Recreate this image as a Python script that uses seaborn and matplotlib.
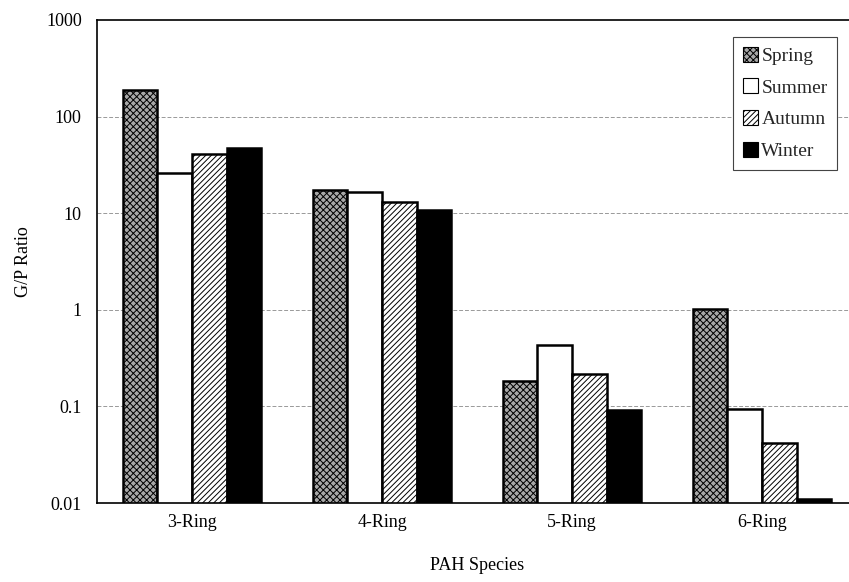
import numpy as np
import pandas as pd
import matplotlib
matplotlib.use("Agg")
import matplotlib.pyplot as plt
import seaborn as sns
from matplotlib.patches import Patch

categories = ["3-Ring", "4-Ring", "5-Ring", "6-Ring"]
seasons = ["Spring", "Summer", "Autumn", "Winter"]
spring = [187, 17.5, 0.183, 1.02]
summer = [26, 16.7, 0.43, 0.093]
autumn = [40.7, 13.0, 0.215, 0.0415]
winter = [47.7, 10.7, 0.091, 0.0111]

df = pd.DataFrame({
    "PAH": categories * 4,
    "Season": [s for s in seasons for _ in categories],
    "Ratio": spring + summer + autumn + winter,
})

sns.set_theme(style="white")
plt.rcParams["font.family"] = ["Liberation Serif", "DejaVu Serif"]
plt.rcParams["hatch.linewidth"] = 0.7

fig = plt.figure(figsize=(8.49, 5.82), dpi=100)
W, H = 849, 582
ax = fig.add_axes([97 / W, (H - 503) / H, 760 / W, 483 / H])

styles = {
    "Spring": dict(facecolor="#a8a8a8", hatch="xxxxx"),
    "Summer": dict(facecolor="white", hatch=None),
    "Autumn": dict(facecolor="white", hatch="//////"),
    "Winter": dict(facecolor="black", hatch=None),
}

sns.barplot(data=df, x="PAH", y="Ratio", hue="Season", order=categories,
            hue_order=seasons, width=0.73, dodge=True, legend=False, ax=ax,
            edgecolor="black", linewidth=1.8, saturation=1)
ax.set_yscale("log")

bars = [p for p in ax.patches]
for i, p in enumerate(bars):
    s = seasons[i // len(categories)]
    p.set_facecolor(styles[s]["facecolor"])
    p.set_edgecolor("black")
    p.set_linewidth(1.8)
    if styles[s]["hatch"]:
        p.set_hatch(styles[s]["hatch"])

ax.set_ylim(0.01, 1000)
ax.set_xlim(-0.5, 3.5)
ax.set_yticks([0.01, 0.1, 1, 10, 100, 1000])
ax.set_yticklabels(["0.01", "0.1", "1", "10", "100", "1000"])
ax.yaxis.set_minor_locator(matplotlib.ticker.NullLocator())
ax.tick_params(axis="y", which="major", length=0, pad=11, labelsize=13, colors="black")
ax.tick_params(axis="x", which="major", length=0, pad=8, labelsize=13, colors="black")
ax.set_xticks(range(len(categories)))
ax.set_xticklabels(categories)
ax.set_xticks([0.5, 1.5, 2.5], minor=True)
ax.tick_params(axis="x", which="minor", direction="in", length=6, width=0.8, color="black")

ax.grid(False)
for yv in [0.1, 1, 10, 100]:
    ax.axhline(yv, color="#999999", lw=0.7, ls=(0, (4, 2)), zorder=0)

for side in ["left", "bottom", "top"]:
    ax.spines[side].set_color("black")
    ax.spines[side].set_linewidth(1.2)
ax.spines["right"].set_visible(False)

ax.set_ylabel("G/P Ratio", fontsize=13, labelpad=10, color="black")
ax.set_xlabel("PAH Species", fontsize=13, labelpad=19, color="black")

handles = [Patch(facecolor=styles[s]["facecolor"], edgecolor="black",
                 hatch=styles[s]["hatch"], linewidth=0.8, label=s) for s in seasons]
leg = ax.legend(handles=handles, loc="upper left", bbox_to_anchor=(0.837, 0.965),
                borderaxespad=0, fontsize=14, frameon=True, fancybox=False,
                framealpha=1, edgecolor="#444444", handlelength=0.8,
                handleheight=0.8, handletextpad=0.15, labelspacing=0.7,
                borderpad=0.5)
leg.get_frame().set_linewidth(0.8)

fig.savefig("out.png", dpi=100)
